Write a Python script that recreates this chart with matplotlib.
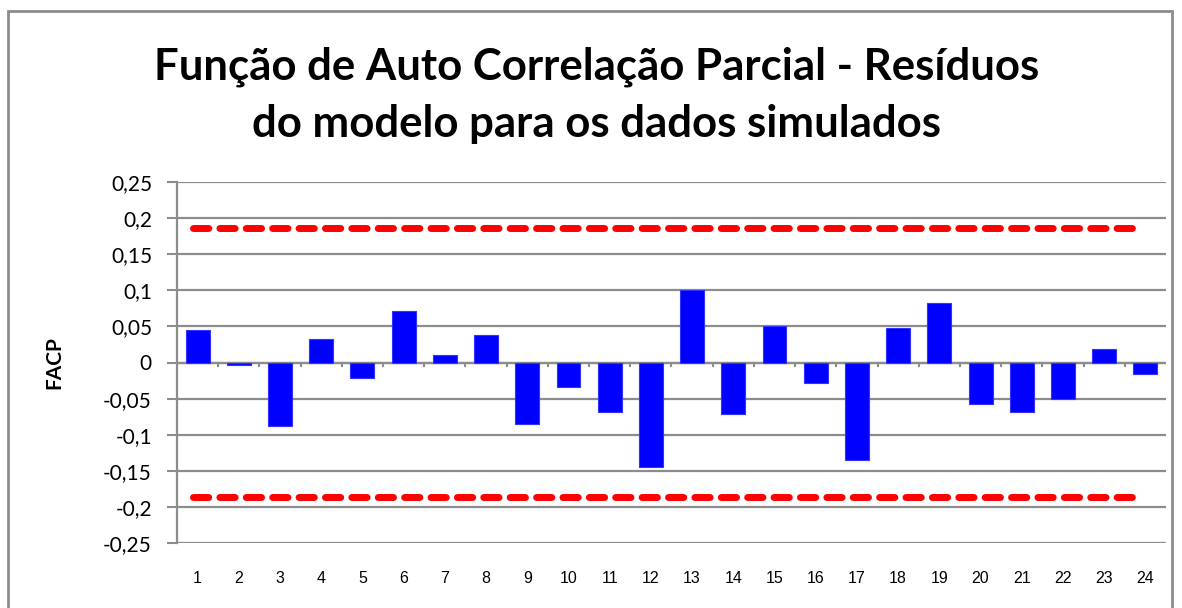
import matplotlib.pyplot as plt
import numpy as np
from matplotlib.patches import Rectangle

lags = list(range(1, 25))
facp = [0.045, -0.004, -0.088, 0.032, -0.021, 0.072, 0.011, 0.038, -0.085, -0.034,
        -0.069, -0.145, 0.100, -0.071, 0.051, -0.029, -0.135, 0.048, 0.083, -0.058,
        -0.069, -0.051, 0.019, -0.016]
limit = 0.186
yticks = [-0.25, -0.2, -0.15, -0.1, -0.05, 0, 0.05, 0.1, 0.15, 0.2, 0.25]
ytick_labels = ['-0,25', '-0,2', '-0,15', '-0,1', '-0,05', '0', '0,05', '0,1', '0,15', '0,2', '0,25']
title = 'Função de Auto Correlação Parcial - Resíduos\ndo modelo para os dados simulados'

W, H = 1182, 608
fig = plt.figure(figsize=(W / 100, H / 100), dpi=100)
ax = fig.add_axes([177 / W, 1 - 543 / H, (1166 - 177) / W, (543 - 182) / H])

# chart border
fig.patches.append(Rectangle((8 / W, -0.1), (1172 - 8) / W, (598 + 60) / H, transform=fig.transFigure,
                             fill=False, edgecolor='#8c8c8c', linewidth=2))

x = np.arange(len(lags))
ax.bar(x, facp, width=0.58, color='#0000ff', edgecolor='#3333ff', linewidth=0.8, zorder=3)

ax.plot([x[0] - 0.1, x[-1] - 0.1], [limit, limit], color='#ff0000', linewidth=5,
        dashes=(2.2, 1.6), dash_capstyle='round', zorder=4)
ax.plot([x[0] - 0.1, x[-1] - 0.1], [-limit, -limit], color='#ff0000', linewidth=5,
        dashes=(2.2, 1.6), dash_capstyle='round', zorder=4)

ax.set_xlim(-0.5, len(lags) - 0.5)
ax.set_ylim(-0.25, 0.25)
ax.set_yticks(yticks)
ax.set_yticklabels(ytick_labels, fontsize=15, family='Lato')
ax.yaxis.grid(True, color='#8c8c8c', linewidth=1.6, zorder=0)
ax.tick_params(axis='y', length=7, width=1.5, color='#8c8c8c', pad=11)

ax.set_xticks(x)
ax.set_xticklabels([str(l) for l in lags], fontsize=11.5,
                   family=['Liberation Sans Narrow', 'Liberation Sans'])
ax.tick_params(axis='x', length=0, pad=20)
# category ticks on zero line
for b in np.arange(0.5, len(lags) - 0.5, 1):
    ax.plot([b, b], [0, -0.005], color='#8c8c8c', linewidth=1.5, zorder=2)
ax.axhline(0, color='#8c8c8c', linewidth=1.6, zorder=2)

for s in ['top', 'right', 'bottom']:
    ax.spines[s].set_visible(False)
ax.spines['left'].set_color('#8c8c8c')
ax.spines['left'].set_linewidth(1.6)

ax.set_ylabel('FACP', fontsize=15, fontweight='bold', family='Lato')
ax.yaxis.set_label_coords((64 - 177) / (1166 - 177), 0.5)
fig.text(597 / W, 1 - 95 / H, title, ha='center', va='center', fontsize=31.5,
         fontweight='bold', family='Lato', linespacing=1.5)

fig.savefig('out.png', dpi=100)
